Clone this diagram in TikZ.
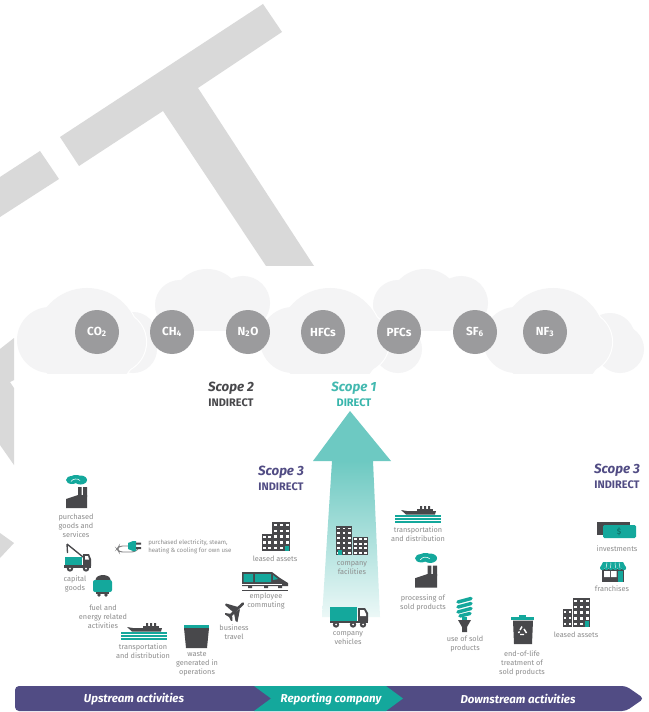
\documentclass[tikz,border=0pt]{standalone}
\usepackage{fontspec}
\setmainfont{Fira Sans}
\definecolor{teal1}{HTML}{14A89C}
\definecolor{dark1}{HTML}{48484B}
\definecolor{purp}{HTML}{514C84}
\definecolor{lblgrey}{HTML}{8C8C8C}
\definecolor{wm}{HTML}{D9D9D9}
\definecolor{cloudc}{HTML}{F4F4F5}
\definecolor{gascol}{HTML}{9B9B9D}
\tikzset{
  lbl/.style={inner sep=0pt,align=center,text=lblgrey,font=\fontsize{5.5}{6.75}\selectfont},
  gas/.style={circle,fill=gascol,minimum size=33pt,inner sep=0pt,text=white,font=\fontsize{8.8}{9}\selectfont\bfseries},
  scopet/.style={inner sep=0pt,font=\fontsize{10}{11}\selectfont\bfseries\itshape},
  scopes/.style={inner sep=0pt,font=\fontsize{8.2}{9}\selectfont\bfseries},
  bann/.style={inner sep=0pt,text=white,font=\fontsize{8.6}{10}\selectfont\bfseries\itshape},
  dk/.style={fill=dark1},
  tl/.style={fill=teal1}
}
\newcommand{\circset}[2]{%
  \begin{scope}\clip #1;
    \foreach \a/\b/\r in {#2}{\draw[white,line width=1.6pt] (\a,\b) circle[radius=\r];}
    \foreach \a/\b/\r in {#2}{\fill[cloudc] (\a,\b) circle[radius=\r];}
  \end{scope}}
\newcommand{\cloudbig}[1]{%
  \begin{scope}[shift={(#1,373)}]
   \circset{(-3,-100) rectangle (135,0)}{33/-33/33,70/-33/52,98/-31/31}
   \fill[cloudc] (33,-33) rectangle (98,0);
  \end{scope}}
\newcommand{\cloudup}[1]{%
  \begin{scope}[shift={(#1,0)}]
   \circset{(-3,260) rectangle (120,330)}{25/305/25,52/305/36,88/303/27}
   \fill[cloudc] (25,305) rectangle (90,330);
  \end{scope}}
\newcommand{\factory}[3]{%
  \begin{scope}[shift={(#1,#2)},scale=#3]
   \fill[tl] (6,5) ellipse[x radius=6,y radius=4] (14.5,5) ellipse[x radius=6.5,y radius=4.5] (10,3.2) ellipse[x radius=6,y radius=3.2];
   \draw[white,line width=.4pt] (5,6.5) to[bend left=50] (14,5.5);
   \fill[dk] (12,12) rectangle (15.5,22) (17,12) rectangle (21,22);
   \fill[dk] (0,24)--(12,20)--(21,20)--(21,33)--(0,33)--cycle;
  \end{scope}}
\newcommand{\ship}[2]{%
  \begin{scope}[shift={(#1,#2)}]
   \fill[dk] (25,2)rectangle(27,6) (29,2)rectangle(31,6) (33,2)rectangle(35,6);
   \fill[dk] (22,5) rectangle (38,7.5);
   \fill[dk] (6,6)--(12,7)--(41,7)--(40,10.5)--(11,10.5)--cycle;
   \fill[tl] (0,11) rectangle (46,19);
   \draw[white,line width=.45pt] (0,13.5)--(46,13.5) (0,16.5)--(46,16.5);
  \end{scope}}
\newcommand{\bldg}[6]{% x y w h cols rows
  \fill[dk] (#1,#2) rectangle ++(#3,#4);
  \pgfmathsetmacro{\dx}{#3/#5}\pgfmathsetmacro{\dy}{(#4)/#6}
  \foreach \i in {1,...,#5}{\foreach \j in {1,...,#6}{
    \fill[white] ({#1+(\i-1)*\dx+.25*\dx},{#2+(\j-1)*\dy+.32*\dy}) rectangle ++({.5*\dx},{.4*\dy});}}}
\begin{document}
\begin{tikzpicture}[x=.75pt,y=-.75pt]
\path[fill=white] (0,0) rectangle (648,712);
\useasboundingbox (0,0) rectangle (648,712);
% watermark
\fill[wm] (60,137)--(263,4)--(282,32)--(198,88)--(314,266)--(266,266)--(163,111)--(79,166)--cycle;
\fill[wm] (0,177)--(40,151)--(59,179)--(0,217)--cycle;
\fill[wm] (0,349)--(14,338)--(14,380)--(10,382)--(14,388)--(14,465)--(0,445)--cycle;
\fill[wm] (0,533)--(14,543)--(0,558)--cycle;
% back clouds
\cloudup{155}
\cloudup{373}
\circset{(100,300) rectangle (170,373)}{133/336/24,133/349/24}
\circset{(370,320) rectangle (430,373)}{398/349/24}
\circset{(580,300) rectangle (648,373)}{610/338/25,620/349/24}
\cloudbig{17}
\cloudbig{260}
\cloudbig{483}
% gases
\node[gas] (co) at (97,332) {CO\textsubscript{2}};
\node[gas] (ch) at (172,332) {CH\textsubscript{4}};
\node[gas] (nno) at (248,332) {N\textsubscript{2}O};
\node[gas] (hfc) at (323,332) {HFCs};
\node[gas] (pfc) at (399,332) {PFCs};
\node[gas] (sf) at (475,332) {SF\textsubscript{6}};
\node[gas] (nf) at (545,332) {NF\textsubscript{3}};
% scope headings
\node[scopet,text=dark1] (s2) at (231,388) {Scope 2};
\node[scopes,text=dark1] (s2b) at (231,403) {INDIRECT};
\node[scopet,text=teal1!80!white] (s1) at (354,388) {Scope 1};
\node[scopes,text=teal1!85!white] (s1b) at (354,403) {DIRECT};
\node[scopet,text=purp] (s3a) at (281,472) {Scope 3};
\node[scopes,text=purp] (s3ab) at (281,487) {INDIRECT};
\node[scopet,text=purp] (s3c) at (617,470) {Scope 3};
\node[scopes,text=purp] (s3cb) at (617,485) {INDIRECT};
% arrow
\fill[fill=teal1!62!white] (350,411)--(391,461)--(313,461)--cycle;
\shade[top color=teal1!62!white,bottom color=teal1!8!white] (332,461)--(373,461)--(380,617)--(322,617)--cycle;
% upstream icons
\factory{66}{475}{1}
\node[lbl] (l1) at (76,526) {purchased\\goods and\\services};
% crane
\begin{scope}[shift={(63,543)}]
 \draw[dark1,line width=1pt] (4,1)--(20,14) (4,1)--(4.5,10);
 \fill[tl] (2,14) rectangle (19,22);
 \fill[dk] (20,11)--(26,11)--(28,16)--(28,23)--(20,23)--cycle;
 \fill[white] (22,13)--(25,13)--(26,16.5)--(22,16.5)--cycle;
 \fill[dk] (1,22) rectangle (28,25);
 \fill[dk] (7,25.5) circle[radius=3.2] (23,25.5) circle[radius=3.2];
 \fill[white] (7,25.5) circle[radius=1] (23,25.5) circle[radius=1];
\end{scope}
\node[lbl] (l2) at (75,583.5) {capital\\goods};
% tank
\begin{scope}[shift={(93,575)}]
 \fill[dk] (10,5) ellipse[x radius=7.5,y radius=5];
 \fill[tl,rounded corners=1.5pt] (0,5) rectangle (19,17);
 \fill[dk] (3,17) rectangle (16,19);
 \fill[dk] (6,20) circle[radius=1.8] (13,20) circle[radius=1.8];
\end{scope}
\node[lbl] (l3) at (103,616.5) {fuel and\\energy related\\activities};
\ship{121}{621}
\node[lbl] (l4) at (143,651.5) {transportation\\and distribution};
% waste
\fill[dk] (184,628)--(209,628)--(207,648)--(186,648)--cycle;
\fill[tl] (184,625) rectangle (209,628);
\node[lbl] (l5) at (197,664) {waste\\generated in\\operations};
% plane
\begin{scope}[shift={(225,602)}]
 \draw[dark1,line width=2pt,line cap=round] (18,1.5)--(5,14);
 \fill[dk] (13,5)--(1,1.5)--(0,3)--(8,10)--cycle;
 \fill[dk] (15,7)--(12.5,20)--(10.5,19)--(9,11)--cycle;
 \fill[dk] (7,12)--(0,11)--(0,12.5)--(4,15)--(6,19)--(7.5,18.5)--cycle;
\end{scope}
\node[lbl] (l6) at (234,632.5) {business\\travel};
% plug
\begin{scope}[shift={(117,540)}]
 \draw[dark1!70!white,line width=.7pt,rounded corners=2.5pt] (11,6)--(2,6)--(0,9)--(2,12)--(18,12)--(21,9);
 \fill[tl] (11,3)--(16,1)--(19,1)--(19,11)--(16,11)--(11,9)--cycle;
 \fill[dk] (19,2.5) rectangle (24,4.5) (19,7) rectangle (24,9);
\end{scope}
\node[lbl,anchor=west,align=left,font=\fontsize{4.6}{6}\selectfont] (l7) at (148,547) {purchased electricity, steam,\\heating \& cooling for own use};
% leased 1
\bldg{272}{522}{18}{29}{3}{5}
\bldg{262}{534}{10}{17}{2}{3}
\fill[tl] (284.5,545.5) rectangle (288.5,551);
\node[lbl] (l8) at (275,559) {leased assets};
% train
\begin{scope}[shift={(242,572)}]
 \fill[dk] (0,0)--(30,0)--(38,6)--(46,11)--(46,14)--(0,14)--cycle;
 \fill[tl] (1.5,2) rectangle (11,10) (13,2) rectangle (29,10);
 \fill[tl] (31,3)--(36,7)--(31,8)--cycle;
 \fill[white] (0,11.5) rectangle (40,12.3);
 \draw[dark1,line width=.6pt] (0,18)--(46,18);
 \fill[dk] (6,14) rectangle (10,16) (22,14) rectangle (26,16) (36,14) rectangle (40,16);
\end{scope}
\node[lbl] (l9) at (266,601.5) {employee\\commuting};
% facilities
\bldg{336}{526}{16}{29}{3}{6}
\bldg{353}{537}{15}{18}{3}{4}
\fill[tl] (338,550) rectangle (342,555);
\node[lbl] (l10) at (352,568.5) {company\\facilities};
% truck
\begin{scope}[shift={(330,607)}]
 \fill[tl] (0,0) rectangle (27,13.5);
 \fill[dk] (28,1) -- (35,1) -- (38,6) -- (38,14) -- (28,14) -- cycle;
 \fill[white] (30,3) -- (34,3) -- (36,7) -- (36,9) -- (30,9) -- cycle;
 \fill[dk] (0,14) rectangle (38,16);
 \fill[dk] (6,17.5) circle[radius=3.2] (23,17.5) circle[radius=3.2] (33,17.5) circle[radius=3.2];
 \fill[white] (6,17.5) circle[radius=1] (23,17.5) circle[radius=1] (33,17.5) circle[radius=1];
\end{scope}
\node[lbl] (l11) at (348,638.5) {company\\vehicles};
% downstream
\ship{395}{504}
\node[lbl] (l12) at (418,534.5) {transportation\\and distribution};
\factory{415}{553}{1.05}
\node[lbl] (l13) at (423,602.5) {processing of\\sold products};
% bulb
\begin{scope}[shift={(456,597)}]
 \draw[teal1,line width=2.6pt,line cap=round] (2,5)--(15,1.5) (2,10)--(15,6.5) (2,15)--(15,11.5) (4,19)--(14,16.5);
 \fill[tl] (6,20) rectangle (11,24);
 \fill[dk] (2,23)--(15,23)--(11,30)--(11,35)--(6,35)--(6,30)--cycle;
\end{scope}
\node[lbl] (l14) at (465,644.5) {use of sold\\products};
% bin
\begin{scope}[shift={(511,615)}]
 \fill[tl] (0,1.5) rectangle (23,5);
 \fill[tl] (8,0) rectangle (15,2);
 \fill[dk] (2,5.5)--(22,5.5)--(21,29)--(3,29)--cycle;
 \draw[white,line width=1.1pt] (11,11.5)--(9,15) (13,14)--(15.5,18) (13,19.5)--(9,19.5) (7.5,18)--(8.5,16.5);
\end{scope}
\node[lbl] (l15) at (522,663) {end-of-life\\treatment of\\sold products};
% leased 2
\bldg{573}{598}{17}{29}{3}{5}
\bldg{563}{609}{9}{18}{2}{3}
\fill[tl] (585,621) rectangle (589,627);
\node[lbl] (l16) at (576,635) {leased assets};
% franchises
\begin{scope}[shift={(600,562)}]
 \fill[dk] (2,7) rectangle (24,20);
 \fill[white] (4,9) rectangle (10,15) (11,9) rectangle (16.5,15);
 \fill[tl] (18,9) rectangle (23,20);
 \fill[tl] (3,0)--(23,0)--(26,6)--(0,6)--cycle;
 \foreach \k in {0,...,5}{\fill[tl] ({2.2+\k*4.35},6) circle[radius=2.2];}
 \draw[white,line width=.35pt] (7,0.5)--(6,6) (11,0.5)--(10.5,6) (15,.5)--(15.5,6) (19,.5)--(20,6);
\end{scope}
\node[lbl] (l17) at (612,589) {franchises};
% investments
\fill[dk] (597,522) rectangle (630,535);
\fill[tl,rounded corners=1pt] (603,525) rectangle (636,538);
\node[inner sep=0pt,text=teal1!70!black,font=\fontsize{6}{7}\selectfont\bfseries] (dollar) at (619,532) {\$};
\node[lbl] (l18) at (617,549) {investments};
% banner
\fill[purp,rounded corners=3pt] (15,686)--(30,686)--(626,686)--(644,698.5)--(626,711)--(15,711)--cycle;
\fill[teal1] (254,686)--(386,686)--(403,698.5)--(386,711)--(254,711)--(271,698.5)--cycle;
\node[bann] (b1) at (134,699) {Upstream activities};
\node[bann] (b2) at (331,699) {Reporting company};
\node[bann] (b3) at (518,699) {Downstream activities};
\end{tikzpicture}
\end{document}
